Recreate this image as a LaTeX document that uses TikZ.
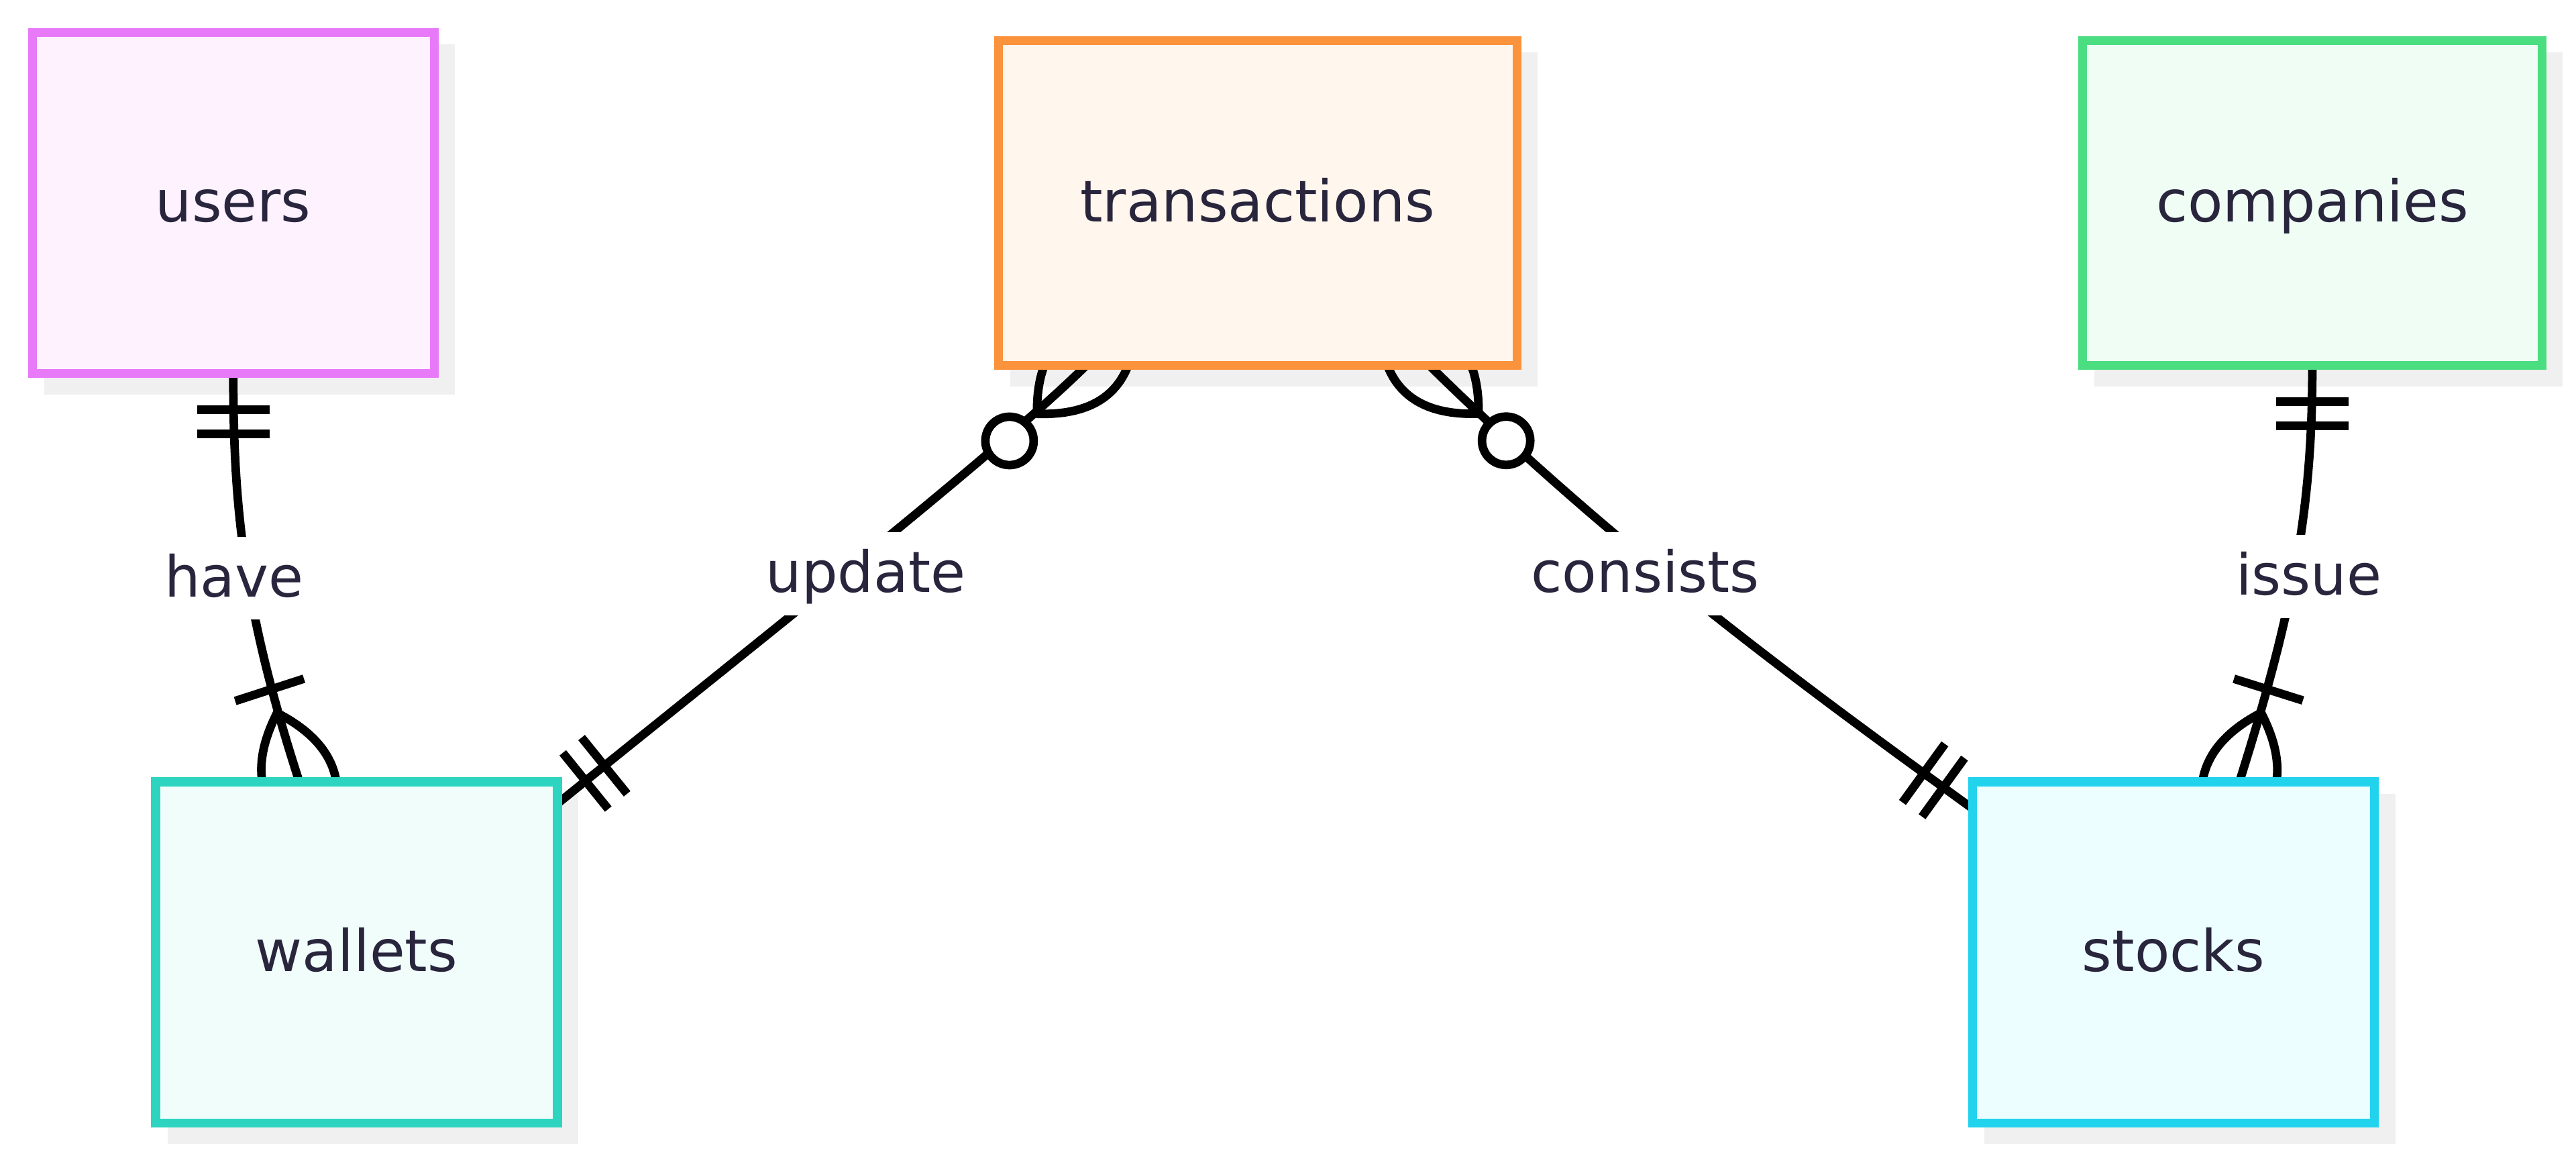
\documentclass[tikz,border=0pt]{standalone}
\usepackage{fontspec}
\setmainfont{DejaVu Sans}
\usetikzlibrary{calc,decorations.markings}
\definecolor{txt}{RGB}{40,37,61}
\definecolor{shd}{RGB}{240,240,240}
\definecolor{uB}{RGB}{232,121,249}\definecolor{uF}{RGB}{253,242,254}
\definecolor{tB}{RGB}{251,146,60}\definecolor{tF}{RGB}{255,246,237}
\definecolor{cB}{RGB}{74,222,128}\definecolor{cF}{RGB}{240,253,244}
\definecolor{wB}{RGB}{45,212,191}\definecolor{wF}{RGB}{240,253,250}
\definecolor{sB}{RGB}{34,211,238}\definecolor{sF}{RGB}{236,254,255}
\pgfdeclarelayer{shadowlayer}
\pgfdeclarelayer{edgelayer}
\pgfsetlayers{shadowlayer,edgelayer,main}
% ER cardinality markers, drawn with x pointing away from the entity
\newcommand\erOnlyOne{\draw[mk] (22,-22) -- (22,22) (36.75,-22) -- (36.75,22);}
\newcommand\erOneMore{\draw[mk] (44,0) .. controls (14.67,29.33) and (-14.67,29.33) .. (-44,0) .. controls (-14.67,-29.33) and (14.67,-29.33) .. cycle;
  \draw[mk] (58.8,-22) -- (58.8,22);}
\newcommand\erZeroMore{\draw[mk] (42,0) .. controls (14,29.33) and (-14,29.33) .. (-42,0) .. controls (-14,-29.33) and (14,-29.33) .. cycle;
  \draw[mk,fill=white] (65.5,0) circle (14.7);}
\tikzset{
  mk/.style={line width=5.2pt, draw=black},
  rel/.style={line width=5.2pt, draw=black},
  ent/.style={rectangle, line width=5.4pt, inner sep=0pt, outer sep=0pt, text=txt,
    font=\fontsize{35pt}{41pt}\selectfont, text height=22.9pt, text depth=0pt},
  lbl/.style={rectangle, fill=white, inner xsep=3pt, inner ysep=0pt, text=txt,
    font=\fontsize{34.5pt}{41pt}\selectfont, text height=36.5pt, text depth=14pt},
  startOne/.style={postaction={decorate, decoration={markings, mark=at position 0 with {\erOnlyOne}}}},
  startZeroMore/.style={postaction={decorate, decoration={markings, mark=at position 0 with {\erZeroMore}}}},
  endOne/.style={postaction={decorate, decoration={markings, mark=at position 0.9999 with {\begin{scope}[xscale=-1]\erOnlyOne\end{scope}}}}},
  endOneMore/.style={postaction={decorate, decoration={markings, mark=at position 0.9999 with {\begin{scope}[xscale=-1]\erOneMore\end{scope}}}}},
  endZeroMore/.style={postaction={decorate, decoration={markings, mark=at position 0.9999 with {\begin{scope}[xscale=-1]\erZeroMore\end{scope}}}}},
}
\begin{document}
\begin{tikzpicture}[x=1pt,y=-1pt]
\useasboundingbox (0,0) rectangle (1568,705);
% entities
\node[ent, draw=uB, fill=uF, minimum width=244.6pt, minimum height=207.6pt] (users) at (142,123.5) {users};
\node[ent, draw=tB, fill=tF, minimum width=315.6pt, minimum height=197.6pt] (transactions) at (765.5,123.5) {transactions};
\node[ent, draw=cB, fill=cF, minimum width=279.6pt, minimum height=197.6pt] (companies) at (1407.5,123.5) {companies};
\node[ent, draw=wB, fill=wF, minimum width=244.6pt, minimum height=207.6pt] (wallets) at (217,579.5) {wallets};
\node[ent, draw=sB, fill=sF, minimum width=244.6pt, minimum height=207.6pt] (stocks) at (1323,579.5) {stocks};
% shadows
\begin{pgfonlayer}{shadowlayer}
\foreach \n in {users,transactions,companies,wallets,stocks}{
  \fill[shd] ($(\n.north west)+(7.3,7.3)$) rectangle ($(\n.south east)+(12.7,12.7)$);
}
\end{pgfonlayer}
% relationships
\begin{pgfonlayer}{edgelayer}
\draw[rel, startOne, endOneMore] (users.south) .. controls +(0,82.4) and +(-33.8,-104.4) .. ($(wallets.north)+(-34.8,0)$);
\draw[rel, startOne, endZeroMore] ($(wallets.east)+(0,-90.5)$) .. controls +(116.6,-94.4) and +(-57,56.1) .. ($(transactions.south)+(-104.3,0)$);
\draw[rel, startZeroMore, endOne] ($(transactions.south)+(104.5,0)$) .. controls +(114.2,112) and +(-105.3,-76.3) .. ($(stocks.west)+(0,-87.5)$);
\draw[rel, startOne, endOneMore] (companies.south) .. controls +(0,87.4) and +(33.1,-105.2) .. ($(stocks.north)+(40.1,0)$);
\end{pgfonlayer}
% relationship labels
\node[lbl, anchor=base] (lhave) at (142.5,363) {have};
\node[lbl, anchor=base] (lupdate) at (527,360.5) {update};
\node[lbl, anchor=base] (lconsists) at (1001.5,360.5) {consists};
\node[lbl, anchor=base] (lissue) at (1405.3,362) {issue};
\end{tikzpicture}
\end{document}
